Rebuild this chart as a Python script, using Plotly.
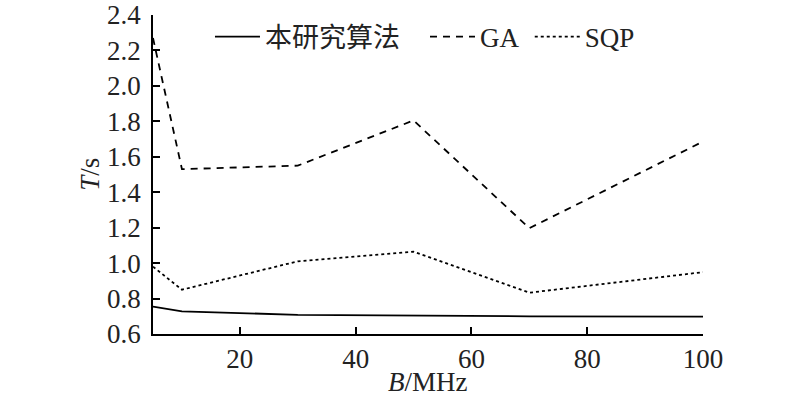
import plotly.graph_objects as go

x_vals = [5, 10, 30, 50, 70, 100]
ours = [0.755, 0.728, 0.708, 0.703, 0.700, 0.698]
ga = [2.27, 1.53, 1.55, 1.805, 1.197, 1.686]
sqp = [0.98, 0.85, 1.01, 1.065, 0.833, 0.949]
names = ["本研究算法", "GA", "SQP"]
x_ticks = [20, 40, 60, 80, 100]
y_ticks = [0.6, 0.8, 1.0, 1.2, 1.4, 1.6, 1.8, 2.0, 2.2, 2.4]

FONT = "Liberation Serif, Times New Roman, Noto Sans CJK SC, serif"
FS = 27

fig = go.Figure()
fig.add_trace(go.Scatter(x=x_vals, y=ours, mode="lines", name=names[0], legend="legend",
                         line=dict(color="black", width=1.8)))
fig.add_trace(go.Scatter(x=x_vals, y=ga, mode="lines", name=names[1], legend="legend2",
                         line=dict(color="black", width=1.8, dash="7px,6px")))
fig.add_trace(go.Scatter(x=x_vals, y=sqp, mode="lines", name=names[2], legend="legend3",
                         line=dict(color="black", width=1.8, dash="3px,3px")))

def leg(xpos):
    return dict(orientation="h", x=xpos, y=0.931, xanchor="left", yanchor="middle",
                font=dict(size=FS, family=FONT, color="#222"),
                bgcolor="rgba(0,0,0,0)", itemwidth=45)

fig.update_layout(
    width=800, height=397,
    margin=dict(l=153, r=97, t=15, b=63, autoexpand=False),
    paper_bgcolor="white", plot_bgcolor="white",
    font=dict(family=FONT, size=FS, color="#222"),
    showlegend=True,
    legend=leg(0.1036),
    legend2=leg(0.4945),
    legend3=leg(0.685),
    xaxis=dict(range=[5, 100], tickvals=x_ticks, ticks="inside", ticklen=7,
               tickcolor="black", tickwidth=1.5, showline=True, linecolor="black",
               linewidth=1.5, showgrid=False, zeroline=False, automargin=False,
               ticklabelstandoff=0, tickfont=dict(size=FS, family=FONT)),
    yaxis=dict(range=[0.6, 2.4], tickvals=y_ticks, tickformat=".1f", ticks="inside",
               ticklen=7, tickcolor="black", tickwidth=1.5, showline=True,
               linecolor="black", linewidth=1.5, showgrid=False, zeroline=False,
               automargin=False, ticklabelstandoff=5,
               tickfont=dict(size=FS, family=FONT)),
    annotations=[
        dict(text="<i>B</i>/MHz", x=0.5, y=-0.152, xref="paper", yref="paper",
             xanchor="center", yanchor="middle", showarrow=False,
             font=dict(size=FS, family=FONT)),
        dict(text="<i>T</i>/s", x=-0.116, y=0.5, xref="paper", yref="paper",
             xanchor="center", yanchor="middle", showarrow=False, textangle=-90,
             font=dict(size=FS, family=FONT)),
    ],
)

fig.write_html("out.html", config={"displayModeBar": False},
               post_script="document.body.style.margin='0';")
